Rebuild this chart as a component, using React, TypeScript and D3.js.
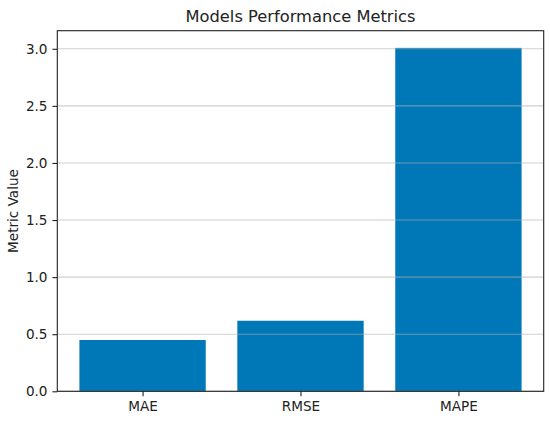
import React, { useEffect, useRef } from 'react';
import * as d3 from 'd3';

const metrics = ['MAE', 'RMSE', 'MAPE'];
const values = [0.449, 0.618, 3.008];
const yTicks = [0, 0.5, 1.0, 1.5, 2.0, 2.5, 3.0];

const App: React.FC = () => {
    const svgRef = useRef<SVGSVGElement>(null);

    useEffect(() => {
        document.body.style.margin = '0';
        d3.select(svgRef.current).selectAll('*').remove();

        const width = 550;
        const height = 421;
        const margin = { top: 30.7, right: 6.3, bottom: 29.7, left: 57.3 };
        const innerW = width - margin.left - margin.right;
        const innerH = height - margin.top - margin.bottom;
        const font = 'DejaVu Sans, sans-serif';

        const svg = d3.select(svgRef.current)
            .attr('width', width)
            .attr('height', height)
            .style('display', 'block')
            .style('background', '#fff');

        const g = svg.append('g')
            .attr('transform', `translate(${margin.left},${margin.top})`);

        // x: continuous like matplotlib, bars width 0.8
        const x = d3.scaleLinear()
            .domain([-0.54, metrics.length - 1 + 0.54])
            .range([0, innerW]);

        const yMax = d3.max(values) as number;
        const y = d3.scaleLinear()
            .domain([0, yMax * 1.05])
            .range([innerH, 0]);

        // bars
        g.selectAll('rect.bar')
            .data(values)
            .enter()
            .append('rect')
            .attr('class', 'bar')
            .attr('x', (_, i) => x(i - 0.4))
            .attr('width', x(0.8) - x(0))
            .attr('y', d => y(d))
            .attr('height', d => innerH - y(d))
            .attr('fill', '#0077b6');

        // grid on top
        g.selectAll('line.grid')
            .data(yTicks)
            .enter()
            .append('line')
            .attr('x1', 0)
            .attr('x2', innerW)
            .attr('y1', d => y(d))
            .attr('y2', d => y(d))
            .attr('stroke', '#b0b0b0')
            .attr('stroke-opacity', 0.6)
            .attr('stroke-width', 1.1);

        // Y Axis
        const yAxis = g.append('g')
            .call(d3.axisLeft(y).tickValues(yTicks).tickFormat(d3.format('.1f')).tickSize(4.9).tickPadding(4.9));
        yAxis.select('.domain').remove();
        yAxis.selectAll('line').attr('stroke', '#222').attr('stroke-width', 1.1);
        yAxis.selectAll('text')
            .style('font-family', font)
            .style('font-size', '13.6px')
            .style('fill', '#222');

        // X Axis
        const xAxis = g.append('g')
            .attr('transform', `translate(0,${innerH})`)
            .call(d3.axisBottom(x).tickValues(metrics.map((_, i) => i)).tickFormat((_, i) => metrics[i]).tickSize(4.9).tickPadding(4.9));
        xAxis.select('.domain').remove();
        xAxis.selectAll('line').attr('stroke', '#222').attr('stroke-width', 1.1);
        xAxis.selectAll('text')
            .style('font-family', font)
            .style('font-size', '13.6px')
            .style('fill', '#222');

        // frame
        g.append('rect')
            .attr('width', innerW)
            .attr('height', innerH)
            .attr('fill', 'none')
            .attr('stroke', '#222')
            .attr('stroke-width', 1.1);

        // title
        svg.append('text')
            .attr('x', margin.left + innerW / 2)
            .attr('y', 22)
            .attr('text-anchor', 'middle')
            .style('font-family', font)
            .style('font-size', '16.3px')
            .style('fill', '#222')
            .text('Models Performance Metrics');

        // y label
        svg.append('text')
            .attr('transform', `translate(18,${margin.top + innerH / 2}) rotate(-90)`)
            .attr('text-anchor', 'middle')
            .style('font-family', font)
            .style('font-size', '13.6px')
            .style('fill', '#222')
            .text('Metric Value');
    }, []);

    return <svg ref={svgRef}></svg>;
};

export default App;
